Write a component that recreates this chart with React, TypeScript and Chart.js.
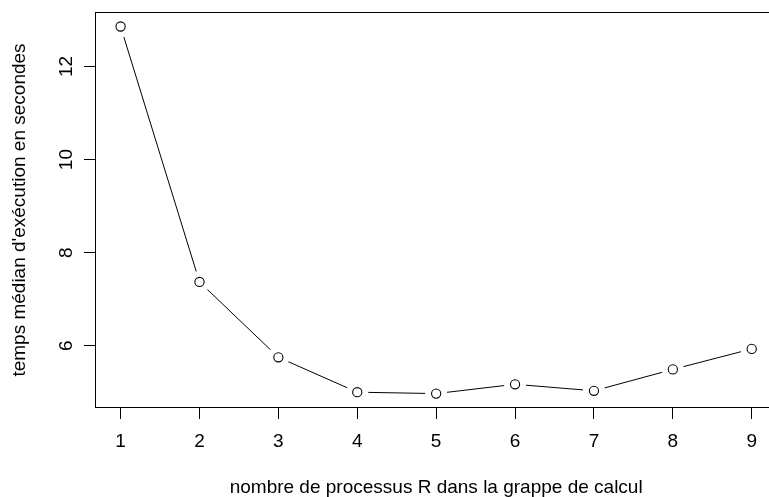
import React, { useEffect, useRef } from "react";
import { Chart, registerables } from "chart.js";

Chart.register(...registerables);

const processCounts = [1, 2, 3, 4, 5, 6, 7, 8, 9];
const medianTimes = [12.86, 7.37, 5.75, 5.0, 4.97, 5.17, 5.03, 5.49, 5.93];
const xTickValues = [1, 2, 3, 4, 5, 6, 7, 8, 9];
const yTickValues = [6, 8, 10, 12];
const xTitle = "nombre de processus R dans la grappe de calcul";
const yTitle = "temps médian d'exécution en secondes";

const FONT = "'Liberation Sans', Arial, Helvetica, sans-serif";
const FS = 19;

const framePlugin = {
  id: "rframe",
  afterDraw(chart: any) {
    const ctx = chart.ctx;
    const xs = chart.scales.x;
    const ys = chart.scales.y;
    const area = chart.chartArea;
    ctx.save();
    ctx.strokeStyle = "#000";
    ctx.lineWidth = 1;
    const right = xs.getPixelForValue(9.32);
    ctx.strokeRect(area.left, area.top, right - area.left, area.bottom - area.top);
    ctx.fillStyle = "#000";
    ctx.font = `${FS}px ${FONT}`;
    ctx.textAlign = "center";
    ctx.textBaseline = "alphabetic";
    xs.ticks.forEach((t: any) => {
      ctx.fillText(String(t.value), xs.getPixelForValue(t.value), 447);
    });
    ys.ticks.forEach((t: any) => {
      const py = ys.getPixelForValue(t.value);
      ctx.save();
      ctx.translate(72, py);
      ctx.rotate(-Math.PI / 2);
      ctx.textAlign = "center";
      ctx.textBaseline = "alphabetic";
      ctx.fillText(String(t.value), 0, 0);
      ctx.restore();
    });
    ctx.textAlign = "center";
    ctx.fillText(xTitle, xs.getPixelForValue(5), 493);
    ctx.save();
    ctx.translate(25, ys.getPixelForValue((4.671 + 13.161) / 2));
    ctx.rotate(-Math.PI / 2);
    ctx.textAlign = "center";
    ctx.fillText(yTitle, 0, 0);
    ctx.restore();
    ctx.restore();
  },
};

export default function App() {
  const ref = useRef<HTMLCanvasElement | null>(null);
  useEffect(() => {
    if (!ref.current) return;
    const pts = processCounts.map((x, i) => ({ x, y: medianTimes[i] }));
    const chart = new Chart(ref.current, {
      type: "line",
      data: {
        datasets: [
          {
            data: pts,
            borderColor: "#000",
            borderWidth: 1,
            pointRadius: 0,
            fill: false,
            tension: 0,
            order: 3,
          },
          {
            data: pts,
            showLine: false,
            pointRadius: 11,
            pointBackgroundColor: "#fff",
            pointBorderWidth: 0,
            pointBorderColor: "#fff",
            order: 2,
          },
          {
            data: pts,
            showLine: false,
            pointRadius: 4.6,
            pointBackgroundColor: "rgba(0,0,0,0)",
            pointBorderColor: "#000",
            pointBorderWidth: 1.1,
            order: 1,
          },
        ],
      },
      options: {
        responsive: false,
        animation: false,
        devicePixelRatio: 1,
        layout: { autoPadding: false, padding: { top: 12.5, right: 0, left: 0, bottom: 0 } },
        plugins: {
          legend: { display: false },
          tooltip: { enabled: false },
          title: { display: false },
        },
        scales: {
          x: {
            type: "linear",
            min: 0.682,
            max: 9.219,
            bounds: "data",
            afterBuildTicks: (s: any) => {
              s.ticks = xTickValues.map((v) => ({ value: v }));
            },
            ticks: { display: false },
            grid: {
              drawOnChartArea: false,
              drawTicks: true,
              tickLength: 11.5,
              color: "#000",
              lineWidth: 1,
            },
            border: { display: false },
            afterFit: (s: any) => {
              s.height = 89.5;
              s.paddingLeft = 0;
              s.paddingRight = 0;
            },
          },
          y: {
            type: "linear",
            min: 4.671,
            max: 13.161,
            bounds: "data",
            afterBuildTicks: (s: any) => {
              s.ticks = yTickValues.map((v) => ({ value: v }));
            },
            ticks: { display: false },
            grid: {
              drawOnChartArea: false,
              drawTicks: true,
              tickLength: 11.5,
              color: "#000",
              lineWidth: 1,
            },
            border: { display: false },
            afterFit: (s: any) => {
              s.width = 95.5;
              s.paddingTop = 0;
              s.paddingBottom = 0;
            },
          },
        },
      },
      plugins: [framePlugin],
    });
    return () => chart.destroy();
  }, []);
  return (
    <div style={{ position: "absolute", left: 0, top: 0, width: 769, height: 497, background: "#fff" }}>
      <canvas ref={ref} width={769} height={497} style={{ display: "block" }} />
    </div>
  );
}
